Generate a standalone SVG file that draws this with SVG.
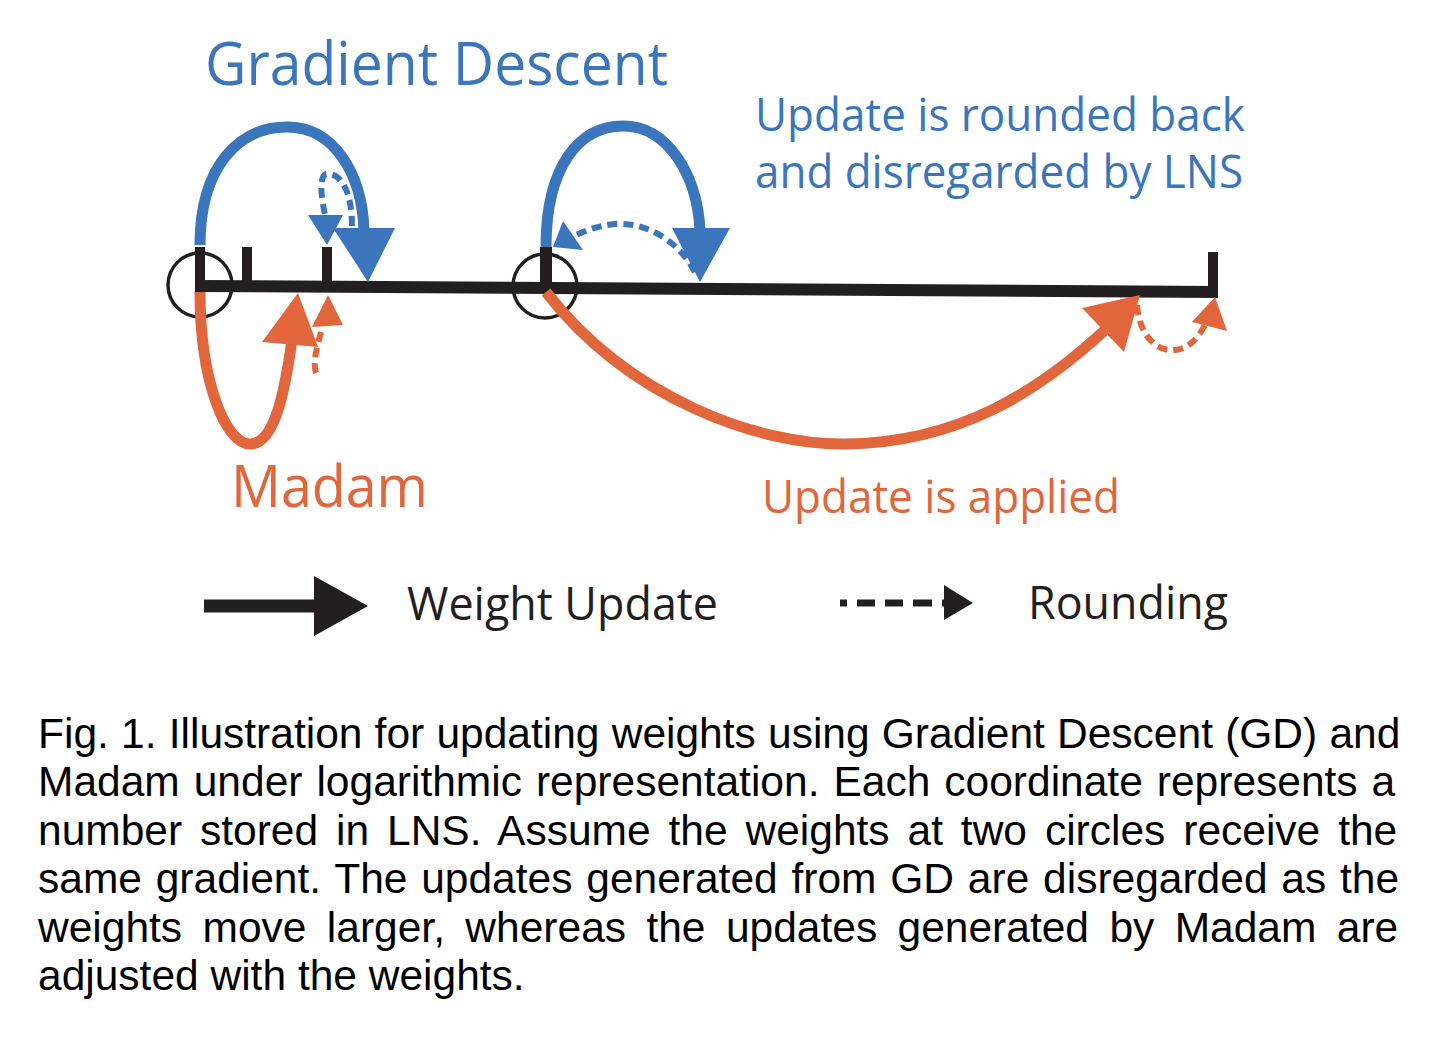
<svg xmlns="http://www.w3.org/2000/svg" width="1430" height="1042" viewBox="0 0 1430 1042">
  <style>
    .blue { fill: #3b76bd; }
    .orange { fill: #e2663b; }
    .ink { fill: #231f20; }
    .lbl { font-family: "Open Sans", "Noto Sans", sans-serif; }
    .solid-b { fill: none; stroke: #3b76bd; stroke-width: 11; }
    .solid-o { fill: none; stroke: #e2663b; stroke-width: 11; }
    .dash-b { fill: none; stroke: #3b76bd; stroke-width: 6; stroke-dasharray: 10 6; }
    .dash-o { fill: none; stroke: #e2663b; stroke-width: 6; stroke-dasharray: 10 6; }
    .casing { fill: none; stroke: #ffffff; stroke-width: 9; }
    .cap { font-family: "Liberation Sans", Arial, sans-serif; font-size: 42.5px; fill: #000000; }
  </style>
  <rect width="1430" height="1042" fill="#ffffff"/>

  <g id="axis">
    <path d="M 195 286 L 1218 292" stroke="#231f20" stroke-width="12" fill="none"/>
    <rect x="195" y="247" width="10" height="40" class="ink"/>
    <rect x="242" y="247" width="10" height="40" class="ink"/>
    <rect x="322" y="247" width="10" height="41" class="ink"/>
    <rect x="540" y="247" width="12" height="42" class="ink"/>
    <rect x="1208" y="252" width="10" height="44" class="ink"/>
  </g>

  <g id="circle-1">
    <circle cx="200" cy="285" r="32" fill="none" stroke="#231f20" stroke-width="3.5"/>
  </g>
  <g id="circle-2">
    <circle cx="545" cy="286" r="32" fill="none" stroke="#231f20" stroke-width="3.5"/>
  </g>

  <g id="connectors">
    <!-- GD update at circle 1 -->
    <path class="solid-b" d="M 200 245 C 200 165 240 127 287 127 C 335 127 362 175 364 230"/>
    <polygon class="blue" points="333,228 395,228 368,282"/>
    <!-- GD rounding 1 -->
    <path class="casing" d="M 352 226 C 352 190 340 172 326 174 C 318 178 322 200 325 215"/>
    <path class="dash-b" d="M 352 226 C 352 190 340 172 326 174 C 318 178 322 200 325 215"/>
    <polygon class="blue" points="308,215 343,215 327,245"/>

    <!-- GD update at circle 2 -->
    <path class="solid-b" d="M 546 247 C 546 165 580 126 623 126 C 668 126 697 175 700 230"/>
    <polygon class="blue" points="672,228 730,228 700,282"/>
    <!-- GD rounding 2 -->
    <path class="dash-b" d="M 695 272 C 675 235 640 222 615 224 C 595 226 582 232 570 238"/>
    <polygon class="blue" points="553,247 563,221 583,250"/>

    <!-- Madam update at circle 1 -->
    <path class="solid-o" d="M 200 292 C 200 380 225 444 250 444 C 275 444 285 390 292 340"/>
    <polygon class="orange" points="262,342 318,347 298,293"/>
    <!-- Madam rounding 1 -->
    <path class="dash-o" d="M 316 373 C 312 360 318 345 322 328"/>
    <polygon class="orange" points="312,327 343,325 328,295"/>

    <!-- Madam update at circle 2 -->
    <path class="solid-o" d="M 546 292 C 630 400 760 445 845 444 C 960 443 1040 390 1105 330"/>
    <polygon class="orange" points="1082,308 1124,352 1140,295"/>
    <!-- Madam rounding 2 -->
    <path class="dash-o" d="M 1137 305 C 1140 340 1160 352 1175 350 C 1190 348 1198 338 1205 325"/>
    <polygon class="orange" points="1192,322 1227,331 1215,297"/>
  </g>

  <g id="labels" class="lbl">
    <text x="205" y="85" font-size="60" class="blue" textLength="463" lengthAdjust="spacingAndGlyphs">Gradient Descent</text>
    <text x="755" y="131" font-size="46" class="blue" textLength="490" lengthAdjust="spacingAndGlyphs">Update is rounded back</text>
    <text x="755" y="188" font-size="46" class="blue" textLength="488" lengthAdjust="spacingAndGlyphs">and disregarded by LNS</text>
    <text x="231" y="507" font-size="59" class="orange" textLength="197" lengthAdjust="spacingAndGlyphs">Madam</text>
    <text x="762" y="513" font-size="46" class="orange" textLength="358" lengthAdjust="spacingAndGlyphs">Update is applied</text>
  </g>

  <g id="legend">
    <g id="legend-weight-update">
      <path d="M 204 606 L 318 606" stroke="#231f20" stroke-width="13" fill="none"/>
      <polygon class="ink" points="314,576 314,636 368,606"/>
      <text x="407" y="620" font-size="46" class="lbl ink" textLength="311" lengthAdjust="spacingAndGlyphs">Weight Update</text>
    </g>
    <g id="legend-rounding">
      <path d="M 840 603 L 950 603" stroke="#231f20" stroke-width="7" fill="none" stroke-dasharray="7 10 18 10 18 10 19 10 10"/>
      <polygon class="ink" points="944,585 944,620 973,603"/>
      <text x="1028" y="619" font-size="46" class="lbl ink" textLength="200" lengthAdjust="spacingAndGlyphs">Rounding</text>
    </g>
  </g>

  <g id="caption" class="cap">
    <text x="38" y="748" word-spacing="0.4">Fig. 1. Illustration for updating weights using Gradient Descent (GD) and</text>
    <text x="38" y="796" word-spacing="2.2">Madam under logarithmic representation. Each coordinate represents a</text>
    <text x="38" y="845" word-spacing="6.1">number stored in LNS. Assume the weights at two circles receive the</text>
    <text x="38" y="893" word-spacing="2.0">same gradient. The updates generated from GD are disregarded as the</text>
    <text x="38" y="942" word-spacing="8.6">weights move larger, whereas the updates generated by Madam are</text>
    <text x="38" y="990">adjusted with the weights.</text>
  </g>
</svg>
